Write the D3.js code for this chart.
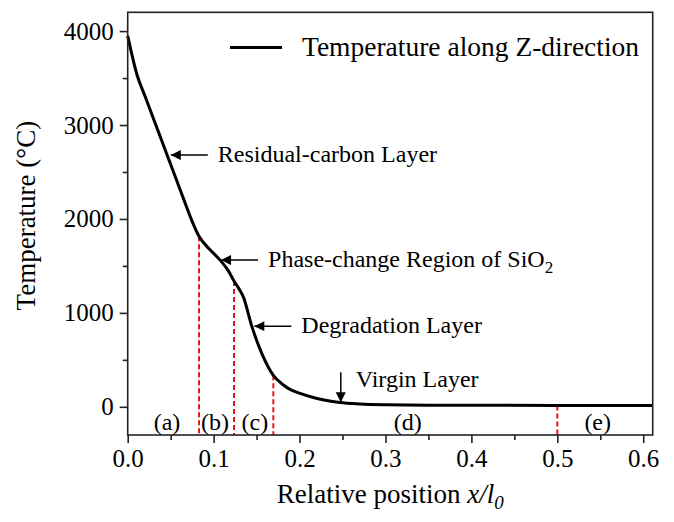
<!DOCTYPE html>
<html><head><meta charset="utf-8">
<script src="https://cdn.jsdelivr.net/npm/d3@7"></script>
<style>
body{margin:0;background:#fff;}
svg{display:block;}
text{font-family:"Liberation Serif","Times New Roman",serif;fill:#000;}
</style></head>
<body><svg id="c" width="674" height="522"></svg>
<script>
// ---- data ----
const posX = [0, 0.011, 0.02, 0.03, 0.04, 0.049, 0.058, 0.066, 0.075, 0.083, 0.095, 0.1075, 0.117, 0.1237, 0.13, 0.1346, 0.144, 0.156, 0.1695, 0.18, 0.19, 0.2006, 0.216, 0.23, 0.247, 0.27, 0.3, 0.35, 0.4, 0.5, 0.611];
const temp = [3950, 3530, 3311, 3067, 2824, 2605, 2386, 2190, 1975, 1815, 1680, 1562, 1450, 1340, 1250, 1171, 870, 569, 335, 240, 180, 143, 100, 70, 45, 30, 22, 18, 16, 15, 15];
const boundaryX = [0.083, 0.1237, 0.1695, 0.5];
const boundaryT = [1815, 1340, 335, 15];
const regionLabels = ["(a)", "(b)", "(c)", "(d)", "(e)"];
const regionX = [0.0458, 0.1016, 0.148, 0.326, 0.547];
const xTickValues = [0, 0.1, 0.2, 0.3, 0.4, 0.5, 0.6];
const xMinorValues = [0.05, 0.15, 0.25, 0.35, 0.45, 0.55];
const yTickValues = [0, 1000, 2000, 3000, 4000];
const yMinorValues = [500, 1500, 2500, 3500];
const annoText = ["Residual-carbon Layer", "Phase-change Region of SiO", "Degradation Layer"];
const annoX = [0.049, 0.1075, 0.1462];
const annoT = [2680, 1562, 859];
const legendLabel = "Temperature along Z-direction";

// ---- layout ----
const svg = d3.select("#c");
const L = 127.7, T0 = 12.3, R = 652.7, B = 435;
const x = d3.scaleLinear().domain([0, 0.611]).range([L, R]);
const y = d3.scaleLinear().domain([-300, 4200]).range([B, T0]);
const axisColor = "#222";

svg.append("defs").append("marker").attr("id","ah")
  .attr("viewBox","0 0 10 10").attr("refX",10).attr("refY",5)
  .attr("markerWidth",14).attr("markerHeight",10).attr("markerUnits","userSpaceOnUse")
  .attr("orient","auto")
  .append("path").attr("d","M0,0 L10,5 L0,10 z").attr("fill","#000");

// red dashed boundaries
svg.append("g").selectAll("line").data(boundaryX).join("line")
  .attr("x1", d => x(d)).attr("x2", d => x(d))
  .attr("y1", (d,i) => y(boundaryT[i])).attr("y2", B)
  .attr("stroke", "#e8141b").attr("stroke-width", 2).attr("stroke-dasharray", "5,3");

// curve
const line = d3.line().x(d => x(d[0])).y(d => y(d[1])).curve(d3.curveMonotoneX);
svg.append("path").datum(posX.map((v,i)=>[v,temp[i]]))
  .attr("d", line).attr("fill","none").attr("stroke","#000").attr("stroke-width",3).attr("stroke-linejoin","round");

// frame
svg.append("rect").attr("x",L).attr("y",T0).attr("width",R-L).attr("height",B-T0)
  .attr("fill","none").attr("stroke",axisColor).attr("stroke-width",1.6);

// axes
const xAxis = svg.append("g").attr("transform",`translate(0,${B})`)
  .call(d3.axisBottom(x).tickValues(xTickValues).tickFormat(d3.format(".1f")).tickSizeInner(8).tickSizeOuter(0).tickPadding(6));
const xMinor = svg.append("g").attr("transform",`translate(0,${B})`)
  .call(d3.axisBottom(x).tickValues(xMinorValues).tickFormat("").tickSizeInner(5).tickSizeOuter(0));
const yAxis = svg.append("g").attr("transform",`translate(${L},0)`)
  .call(d3.axisLeft(y).tickValues(yTickValues).tickFormat(d3.format("d")).tickSizeInner(8).tickSizeOuter(0).tickPadding(6));
const yMinor = svg.append("g").attr("transform",`translate(${L},0)`)
  .call(d3.axisLeft(y).tickValues(yMinorValues).tickFormat("").tickSizeInner(5).tickSizeOuter(0));
[xAxis,xMinor,yAxis,yMinor].forEach(g=>{
  g.select(".domain").remove();
  g.selectAll("line").attr("stroke",axisColor).attr("stroke-width",1.6);
  g.selectAll("text").attr("font-size",25).attr("fill","#000")
   .style("font-family",'"Liberation Serif","Times New Roman",serif');
});

// axis titles
const xt = svg.append("text").attr("x",(L+R)/2).attr("y",503).attr("text-anchor","middle").attr("font-size",27);
xt.append("tspan").text("Relative position ");
xt.append("tspan").attr("font-style","italic").text("x/l");
xt.append("tspan").attr("font-style","italic").attr("font-size",19).attr("dy",6).text("0");

svg.append("text").attr("transform",`translate(35,${(T0+B)/2 - 8}) rotate(-90)`)
  .attr("text-anchor","middle").attr("font-size",27).text("Temperature (°C)");

// legend
svg.append("line").attr("x1",230).attr("x2",282).attr("y1",47.5).attr("y2",47.5).attr("stroke","#000").attr("stroke-width",3);
svg.append("text").attr("x",302).attr("y",56).attr("font-size",27.5).text(legendLabel);

// annotations with left-pointing arrows
annoText.forEach((t,i)=>{
  const tx = x(annoX[i]), ty = y(annoT[i]);
  svg.append("line").attr("x1",tx+38).attr("y1",ty).attr("x2",tx+1).attr("y2",ty)
    .attr("stroke","#000").attr("stroke-width",1.5).attr("marker-end","url(#ah)");
  const tt = svg.append("text").attr("x",tx+48).attr("y",ty+7).attr("font-size",24).text(t);
  if (i===1) tt.append("tspan").attr("font-size",17).attr("dy",6).text("2");
});

// virgin layer vertical arrow
const vx = x(0.248);
svg.append("line").attr("x1",vx).attr("x2",vx).attr("y1",y(368)).attr("y2",y(48))
  .attr("stroke","#000").attr("stroke-width",1.5).attr("marker-end","url(#ah)");
svg.append("text").attr("x",vx+15).attr("y",y(368)+15).attr("font-size",24).text("Virgin Layer");

// region labels
svg.append("g").selectAll("text").data(regionLabels).join("text")
  .attr("x",(d,i)=>x(regionX[i])).attr("y",y(-160)+8).attr("text-anchor","middle")
  .attr("font-size",24).text(d=>d);
</script></body></html>
